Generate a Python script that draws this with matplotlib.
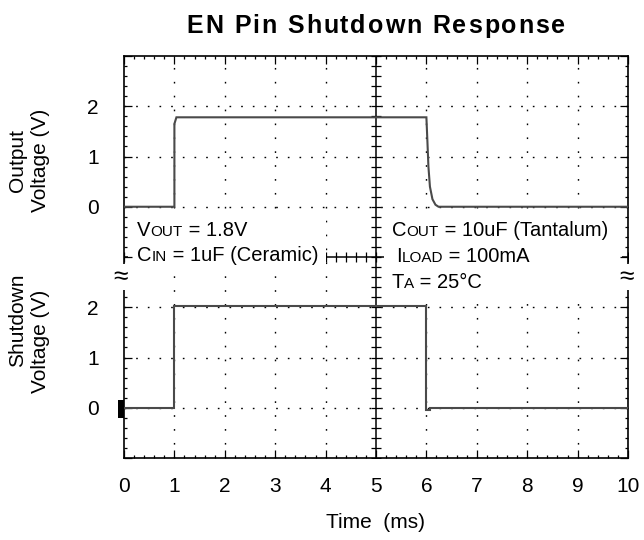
import numpy as np
import matplotlib
matplotlib.use("Agg")
import matplotlib.pyplot as plt
from matplotlib.patches import Rectangle
from matplotlib.transforms import IdentityTransform

plt.rcParams['font.family'] = ['Liberation Sans', 'DejaVu Sans']

# ---- data ----
time_ticks = list(range(0, 11))
time_labels = [str(t) for t in time_ticks]
volt_ticks = [0, 1, 2]
volt_labels = ['0', '1', '2']

out_t = [0.0, 1.0, 1.0, 1.04, 6.0, 6.02, 6.04, 6.07, 6.12, 6.18, 6.24, 10.0]
out_v = [0.0, 0.0, 1.65, 1.78, 1.78, 1.30, 0.80, 0.40, 0.15, 0.04, 0.0, 0.0]

sd_t = [0.0, 1.0, 1.0, 6.0, 6.0, 6.08, 6.08, 10.0]
sd_v = [0.0, 0.0, 2.03, 2.03, -0.05, -0.05, 0.0, 0.0]

title = "EN Pin Shutdown Response"
xlabel = "Time  (ms)"
ylabel_top = ["Output", "Voltage (V)"]
ylabel_bot = ["Shutdown", "Voltage (V)"]

W, H = 644, 540
fig = plt.figure(figsize=(W / 100, H / 100), dpi=100)
L, R, T, B = 124, 628, 56, 458
fl, fb, fw, fh = L / W, 1 - B / H, (R - L) / W, (B - T) / H

frame = fig.add_axes([fl, fb, fw, fh])
frame.set_xlim(0, 10)
frame.set_ylim(0, 8)
frame.set_facecolor('white')
for s in frame.spines.values():
    s.set_linewidth(1.2)
frame.set_xticks(np.arange(0, 10.001, 0.2), minor=True)
frame.set_yticks(range(0, 9))
frame.set_yticks(np.arange(0, 8.001, 0.2), minor=True)
frame.tick_params(which='both', direction='in', top=True, right=True,
                  labelbottom=False, labelleft=False, width=0.9)
frame.tick_params(which='major', length=5.5)
frame.tick_params(which='minor', length=2.5)

# dotted grid
for x in range(1, 10):
    if x == 5:
        continue
    frame.axvline(x, color='black', lw=1.0, ls=(0, (1.2, 8.8)), zorder=1)
for y in [1, 2, 3, 5, 6, 7]:
    frame.axhline(y, color='black', lw=1.0, ls=(0, (1.2, 7.2)), zorder=1)

# center crosshair
frame.axvline(5, color='black', lw=1.1, zorder=1.2)
frame.axhline(4, color='black', lw=1.1, zorder=1.2)
frame.plot(np.full(41, 5.0), np.arange(0, 8.001, 0.2), ls='none', marker='_',
           ms=7, mew=0.9, color='black', zorder=1.2)
frame.plot(np.arange(0, 10.001, 0.2), np.full(51, 4.0), ls='none', marker='|',
           ms=7, mew=0.9, color='black', zorder=1.2)

# white areas behind annotations
def px_rect(x0, y0, x1, y1):
    return Rectangle((x0 / W, 1 - y1 / H), (x1 - x0) / W, (y1 - y0) / H,
                     transform=fig.transFigure, facecolor='white',
                     edgecolor='none', zorder=1.5)

frame.add_patch(px_rect(128, 212, 326, 272))
frame.add_patch(px_rect(384, 212, 622, 296))

# overlay axes for the two traces
def overlay(bottom_frac):
    ax = fig.add_axes([fl, fb + bottom_frac * fh, fw, fh / 2])
    ax.set_xlim(0, 10)
    ax.set_ylim(-1, 3)
    ax.patch.set_visible(False)
    for s in ax.spines.values():
        s.set_visible(False)
    ax.set_xticks([])
    ax.set_yticks(volt_ticks)
    ax.set_yticklabels(volt_labels, fontsize=15)
    ax.tick_params(axis='y', length=0, pad=18)
    return ax

ax_top = overlay(0.5)
ax_bot = overlay(0.0)
ax_top.plot(out_t, out_v, color='#4a4a4a', lw=1.5, solid_joinstyle='miter')
ax_bot.plot(sd_t, sd_v, color='#4a4a4a', lw=1.5, solid_joinstyle='miter')

# x tick labels
frame.set_xticks(time_ticks)
frame.set_xticklabels(time_labels, fontsize=15)
frame.tick_params(axis='x', which='major', labelbottom=True, pad=14)

fig.text((L + R) / 2 / W, 1 - 522 / H, xlabel, ha='center', va='center', fontsize=15)

# y labels
def ylab(lines, xs, ycs):
    for line, x, yc in zip(lines, xs, ycs):
        fig.text(x / W, 1 - yc / H, line, rotation=90, ha='center', va='center', fontsize=15)

ylab(ylabel_top, [18, 40], [160, 160])
ylab(ylabel_bot, [18, 40], [320, 341])

# title with slight tracking
renderer = fig.canvas.get_renderer()

def tracked(text, xc, ybase, size, weight, track):
    objs = []
    widths = []
    for ch in text:
        t = fig.text(0, 0, ch, fontsize=size, weight=weight, transform=IdentityTransform(),
                     va='baseline', ha='left')
        bb = t.get_window_extent(renderer)
        objs.append(t)
        widths.append(bb.width if ch != ' ' else size * 100 / 72 * 0.278)
    total = sum(widths) + track * (len(text) - 1)
    x = xc - total / 2
    for t, w in zip(objs, widths):
        t.set_position((x, H - ybase))
        x += w + track
    return objs

tracked(title, (L + R) / 2, 33, 18, 'bold', 1.9)

# runs of text (small-caps subscripts)
def runs(x, ybase, parts):
    for s, size in parts:
        t = fig.text(x, H - ybase, s, fontsize=size, transform=IdentityTransform(),
                     va='baseline', ha='left')
        bb = t.get_window_extent(renderer)
        x += bb.width

big, small = 14.5, 11
runs(137, 236, [("V", big), ("OUT", small), (" = 1.8V", big)])
runs(137, 261, [("C", big), ("IN", small), (" = 1uF (Ceramic)", big)])
runs(392, 236, [("C", big), ("OUT", small), (" = 10uF (Tantalum)", big)])
runs(396, 262, [("I", big), ("LOAD", small), (" = 100mA", big)])
runs(392, 288, [("T", big), ("A", small), (" = 25\u00b0C", big)])

# break symbols
for xp in (121, 627):
    fig.text(xp / W, 1 - 277 / H, "\u2248", ha='center', va='center', fontsize=19,
             bbox=dict(facecolor='white', edgecolor='none', pad=0.5))

# channel marker
frame.add_patch(Rectangle((118 / W, 1 - 418 / H), 6 / W, 18 / H, transform=fig.transFigure,
                          facecolor='black', edgecolor='none', clip_on=False, zorder=5))

fig.savefig("out.png", dpi=100)
